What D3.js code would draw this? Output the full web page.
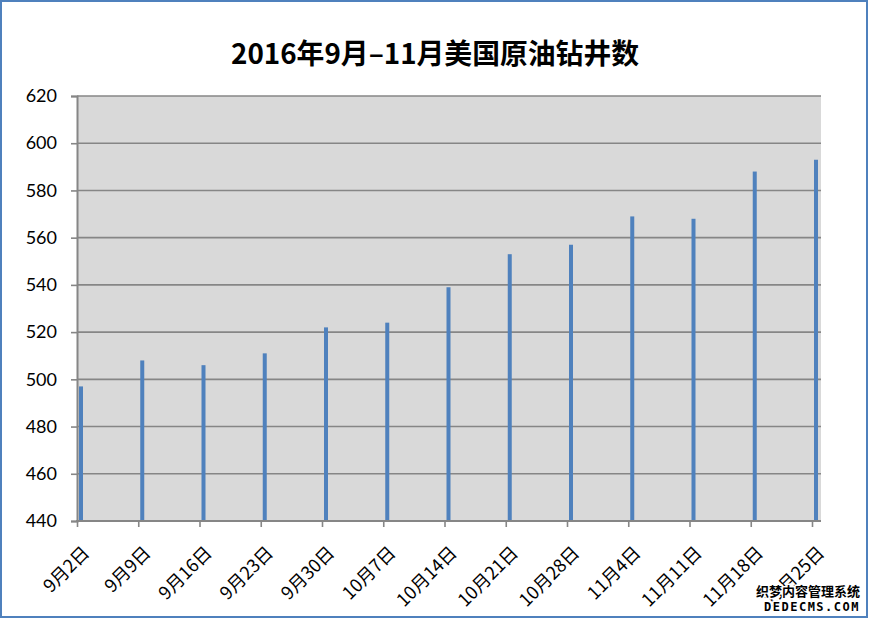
<!DOCTYPE html>
<html><head><meta charset="utf-8">
<script src="https://cdn.jsdelivr.net/npm/d3@7"></script>
<style>body{margin:0;background:#fff}svg{display:block}</style>
</head><body>
<svg id="c" width="871" height="619"></svg>
<script>
const title = "2016年9月–11月美国原油钻井数";
const categories = ["9月2日","9月9日","9月16日","9月23日","9月30日","10月7日","10月14日","10月21日","10月28日","11月4日","11月11日","11月18日","11月25日"];
const values = [497, 508, 506, 511, 522, 524, 539, 553, 557, 569, 568, 588, 593];
const yTicks = [440, 460, 480, 500, 520, 540, 560, 580, 600, 620];

const svg = d3.select("#c");
const L = 77, R = 821, T = 96, B = 521;
svg.append("rect").attr("x",1).attr("y",1).attr("width",866).attr("height",616)
  .attr("fill","#fff").attr("stroke","#4f81bd").attr("stroke-width",2);
svg.append("rect").attr("x",L).attr("y",T).attr("width",R-L).attr("height",B-T).attr("fill","#d9d9d9");

const y = d3.scaleLinear().domain([440,620]).range([B,T]);
const x = d3.scalePoint().domain(categories).range([L, 812]);

// gridlines
svg.append("g").selectAll("line").data(yTicks.slice(1)).join("line")
  .attr("x1",L).attr("x2",R).attr("y1",d=>y(d)).attr("y2",d=>y(d))
  .attr("stroke","#868686").attr("stroke-width",1.6);

// y axis
const ya = svg.append("g").attr("transform",`translate(${L},0)`)
  .call(d3.axisLeft(y).tickValues(yTicks).tickSize(6).tickPadding(14));
ya.select(".domain").attr("stroke","#868686").attr("stroke-width",2);
ya.selectAll(".tick line").attr("stroke","#868686").attr("stroke-width",1.6);
ya.selectAll("text").attr("font-family","Lato, 'Liberation Sans', sans-serif").attr("font-size",18).attr("fill","#000");

// bars
svg.append("g").selectAll("rect").data(values).join("rect")
  .attr("x",(d,i)=>x(categories[i])+2).attr("width",4)
  .attr("y",d=>y(d)).attr("height",d=>B-y(d)).attr("fill","#4f81bd");

// x axis
const xa = svg.append("g").attr("transform",`translate(0,${B})`)
  .call(d3.axisBottom(x).tickSize(6).tickSizeOuter(0));
xa.select(".domain").remove();
svg.append("line").attr("x1",L-1).attr("x2",R).attr("y1",B).attr("y2",B).attr("stroke","#868686").attr("stroke-width",2);
xa.selectAll(".tick line").attr("stroke","#868686").attr("stroke-width",1.6);
xa.selectAll("text")
  .attr("font-family","'Noto Sans CJK SC', sans-serif").attr("font-size",18).attr("fill","#000")
  .attr("text-anchor","end").attr("dy",0).attr("y",0)
  .attr("transform","translate(13,33) rotate(-45)");

svg.append("text").attr("x",435).attr("y",64).attr("text-anchor","middle")
  .attr("font-family","'Noto Sans CJK SC', sans-serif").attr("font-weight","bold").attr("font-size",28)
  .attr("textLength",408).attr("lengthAdjust","spacingAndGlyphs")
  .attr("fill","#000").text(title);

// watermark
const wm = svg.append("g").attr("font-family","'Noto Sans CJK SC', sans-serif").attr("fill","#000")
  .attr("stroke","#fff").attr("stroke-width",3).attr("paint-order","stroke").attr("font-weight","bold");
wm.append("text").attr("x",860).attr("y",596).attr("text-anchor","end").attr("font-size",13).text("织梦内容管理系统");
wm.append("text").attr("x",860).attr("y",611).attr("text-anchor","end").attr("font-size",12)
  .attr("font-family","'DejaVu Sans Mono', monospace").attr("letter-spacing",1.5).text("DEDECMS.COM");
</script>
</body></html>
